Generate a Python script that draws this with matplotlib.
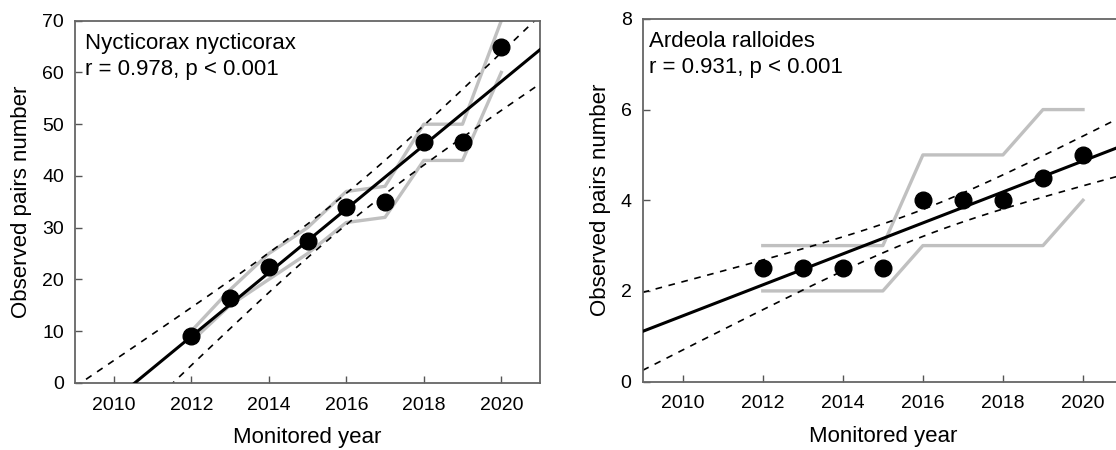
import matplotlib
matplotlib.use("Agg")
import matplotlib.pyplot as plt
import numpy as np

plt.rcParams["font.family"] = ["Liberation Sans", "DejaVu Sans"]

years = np.arange(2012, 2021)

# Nycticorax nycticorax: min / max observed pairs per season
nyc_min = [8, 15, 20, 25, 31, 32, 43, 43, 60]
nyc_max = [10, 18, 25, 30, 37, 38, 50, 50, 70]
nyc_label = "Nycticorax nycticorax\nr = 0.978, p < 0.001"

# Ardeola ralloides: min / max observed pairs per season
ard_min = [2, 2, 2, 2, 3, 3, 3, 3, 4]
ard_max = [3, 3, 3, 3, 5, 5, 5, 6, 6]
ard_label = "Ardeola ralloides\nr = 0.931, p < 0.001"

T_975_DF7 = 2.364624  # two-sided 95% t quantile, n = 9


def fit_band(x, y, xs):
    n = len(x)
    slope, icpt = np.polyfit(x, y, 1)
    resid = y - (icpt + slope * x)
    s = np.sqrt((resid ** 2).sum() / (n - 2))
    se = s * np.sqrt(1 / n + (xs - x.mean()) ** 2 / ((x - x.mean()) ** 2).sum())
    fit = icpt + slope * xs
    return fit, fit - T_975_DF7 * se, fit + T_975_DF7 * se


def panel(ax, lo, hi, label, ymax, ystep, text_dx):
    lo = np.asarray(lo, float)
    hi = np.asarray(hi, float)
    mid = (lo + hi) / 2
    xs = np.linspace(2009, 2021, 200)
    fit, low, up = fit_band(years.astype(float), mid, xs)

    ax.plot(years, hi, color="#c0c0c0", lw=2.4, zorder=1)
    ax.plot(years, lo, color="#c0c0c0", lw=2.4, zorder=1)
    ax.plot(xs, low, color="black", lw=1.2, ls=(0, (4, 4)), zorder=2)
    ax.plot(xs, up, color="black", lw=1.2, ls=(0, (4, 4)), zorder=2)
    ax.plot(xs, fit, color="black", lw=2.2, zorder=3)
    ax.plot(years, mid, "o", color="black", ms=12, zorder=4)

    ax.set_xlim(2009, 2021)
    ax.set_ylim(0, ymax)
    ax.set_xticks(np.arange(2010, 2021, 2))
    ax.set_yticks(np.arange(0, ymax + 0.1, ystep))
    ax.tick_params(direction="in", length=5, width=1, color="#555555",
                   labelsize=14)
    ax.tick_params(axis="x", pad=10)
    ax.tick_params(axis="y", pad=8)
    for sp in ax.spines.values():
        sp.set_color("#666666")
        sp.set_linewidth(1.3)
    ax.set_xlabel("Monitored year", fontsize=16, labelpad=9.5)
    ax.set_ylabel("Observed pairs number", fontsize=16, labelpad=7)
    ax.annotate(label, xy=(0, 1), xycoords="axes fraction",
                xytext=(text_dx, -8.5), textcoords="offset points",
                ha="left", va="top", fontsize=16, linespacing=1.35)


fig = plt.figure(figsize=(11.16, 4.5), dpi=100)
ax1 = fig.add_axes([0.0672, 0.149, 0.4167, 0.805])
ax2 = fig.add_axes([0.5759, 0.152, 0.4304, 0.806])
panel(ax1, nyc_min, nyc_max, nyc_label, 70, 10, 7)
panel(ax2, ard_min, ard_max, ard_label, 8, 2, 4.5)

fig.savefig("out.png", dpi=100)
